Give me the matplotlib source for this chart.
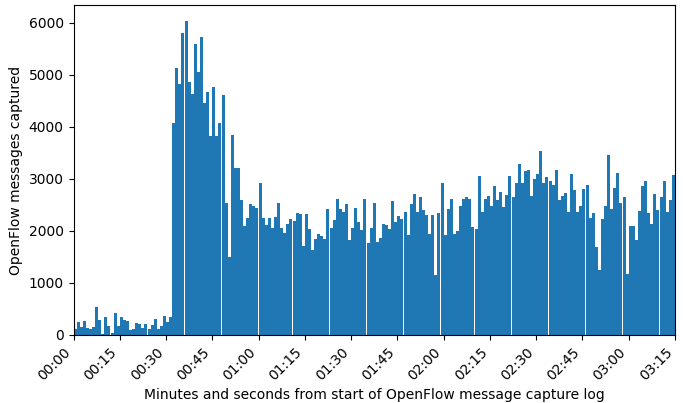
import numpy as np
import matplotlib
matplotlib.use('Agg')
import matplotlib.pyplot as plt

# OpenFlow messages captured per second (one bar per second)
counts = [110, 250, 160, 270, 130, 110, 150, 540, 290, 20,
          350, 170, 40, 420, 170, 345, 290, 265, 100, 110,
          230, 210, 130, 210, 110, 190, 310, 110, 170, 365,
          250, 345,
          4080, 5130, 4830, 5800, 6040, 4870, 4630, 5600, 5060, 5730,
          4460, 4670, 3830, 4770, 3830, 4080, 4620,
          2545, 1506, 3850, 3210, 3210, 2600, 2100, 2250, 2520, 2480,
          2440, 2920, 2250, 2115, 2250, 2060, 2270, 2540, 2060, 1960,
          2135, 2230, 2190, 2345, 2330, 1710, 2330, 2040, 1635, 1850,
          1940, 1900, 1850, 2420, 2060, 2210, 2615, 2420, 2365, 2520,
          1830, 2060, 2440, 2175, 2020, 2615, 1770, 2060, 2540, 1790,
          1865, 2135, 2115, 2040, 2580, 2175, 2290, 2230, 2365, 1920,
          2520, 2710, 2365, 2655, 2405, 2310, 1940, 2310, 1155, 2345,
          2920, 1920, 2420, 2615, 1940, 2000, 2480, 2615, 2655, 2615,
          2075, 2040, 3060, 2365, 2615, 2675, 2480, 2865, 2600, 2750,
          2460, 2690, 3060, 2655, 2920, 3290, 2920, 3150, 3170, 2675,
          3000, 3095, 3540, 2920, 3040, 2960, 2885, 3170, 2600, 2675,
          2730, 2365, 3095, 2790, 2365, 2480, 2810, 2885, 2250, 2345,
          1690, 1255, 2230, 2480, 3460, 2420, 2830, 3115, 2540, 2655,
          1175, 2100, 2100, 1830, 2385, 2865, 2960, 2345, 2135, 2710,
          2405, 2655, 2960, 2365, 2600, 3075]
seconds = np.arange(len(counts))

tick_secs = [0, 15, 30, 45, 60, 75, 90, 105, 120, 135, 150, 165, 180, 195]
tick_labels = ['00:00', '00:15', '00:30', '00:45', '01:00', '01:15', '01:30',
               '01:45', '02:00', '02:15', '02:30', '02:45', '03:00', '03:15']

fig = plt.figure(figsize=(6.83, 4.03), dpi=100)
ax = fig.add_axes([73.5/683, 1-335/403, 601.5/683, 330/403])
ax.bar(seconds, counts, width=0.975, align='edge', color='#1f77b4', linewidth=0)
ax.set_xlim(0, 195)
ax.set_xticks(tick_secs)
ax.set_xticklabels(tick_labels, rotation=45, ha='right')
ax.set_xlabel('Minutes and seconds from start of OpenFlow message capture log')
ax.set_ylabel('OpenFlow messages captured')
fig.savefig('out.png', dpi=100)
